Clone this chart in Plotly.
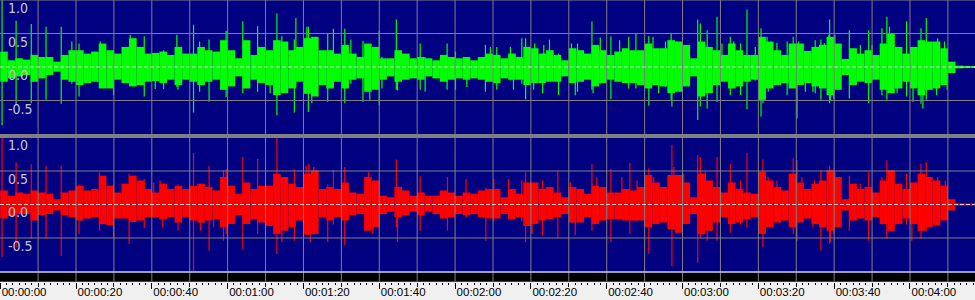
import plotly.graph_objects as go

# ---------------- data ----------------
BIN_SECONDS = 2.0  # each envelope value covers 2 s of audio

green_up = [0.23, 0.10, 0.13, 0.11, 0.18, 0.15, 0.15, 0.08, 0.18, 0.25,
            0.25, 0.20, 0.23, 0.35, 0.25, 0.20, 0.30, 0.43, 0.30, 0.20,
            0.21, 0.23, 0.18, 0.30, 0.20, 0.20, 0.30, 0.25, 0.23, 0.40,
            0.25, 0.13, 0.40, 0.18, 0.30, 0.25, 0.40, 0.38, 0.25, 0.30,
            0.43, 0.45, 0.25, 0.25, 0.20, 0.33, 0.20, 0.15, 0.35, 0.30,
            0.13, 0.13, 0.25, 0.20, 0.13, 0.15, 0.13, 0.10, 0.18, 0.15,
            0.13, 0.15, 0.10, 0.15, 0.20, 0.18, 0.13, 0.20, 0.15, 0.30,
            0.28, 0.20, 0.25, 0.18, 0.10, 0.28, 0.25, 0.20, 0.33, 0.25,
            0.18, 0.23, 0.28, 0.25, 0.25, 0.35, 0.28, 0.28, 0.40, 0.38,
            0.33, 0.13, 0.38, 0.30, 0.25, 0.18, 0.35, 0.25, 0.18, 0.18,
            0.45, 0.38, 0.25, 0.18, 0.35, 0.35, 0.24, 0.30, 0.33, 0.45,
            0.35, 0.12, 0.28, 0.20, 0.25, 0.18, 0.35, 0.50, 0.30, 0.20,
            0.30, 0.40, 0.38, 0.38, 0.28, 0.08, 0.02, 0.006, 0.006]
green_dn = [0.22, 0.17, 0.14, 0.12, 0.22, 0.17, 0.12, 0.07, 0.19, 0.22,
            0.27, 0.24, 0.22, 0.32, 0.32, 0.19, 0.24, 0.29, 0.27, 0.22,
            0.21, 0.24, 0.19, 0.27, 0.19, 0.22, 0.27, 0.22, 0.19, 0.34,
            0.29, 0.14, 0.32, 0.19, 0.24, 0.27, 0.42, 0.39, 0.32, 0.22,
            0.40, 0.44, 0.27, 0.32, 0.22, 0.32, 0.19, 0.17, 0.37, 0.34,
            0.19, 0.14, 0.22, 0.19, 0.17, 0.19, 0.14, 0.17, 0.22, 0.19,
            0.17, 0.19, 0.17, 0.19, 0.22, 0.24, 0.17, 0.19, 0.19, 0.27,
            0.24, 0.24, 0.22, 0.22, 0.14, 0.24, 0.22, 0.19, 0.29, 0.24,
            0.19, 0.22, 0.24, 0.24, 0.27, 0.32, 0.27, 0.29, 0.39, 0.37,
            0.29, 0.14, 0.44, 0.39, 0.27, 0.22, 0.32, 0.29, 0.22, 0.19,
            0.49, 0.32, 0.27, 0.24, 0.32, 0.27, 0.24, 0.29, 0.32, 0.42,
            0.34, 0.12, 0.27, 0.22, 0.24, 0.19, 0.34, 0.39, 0.32, 0.22,
            0.32, 0.42, 0.34, 0.32, 0.27, 0.09, 0.02, 0.006, 0.006]
red_up = [0.21, 0.13, 0.18, 0.16, 0.21, 0.18, 0.16, 0.08, 0.18, 0.21,
          0.28, 0.21, 0.23, 0.43, 0.28, 0.18, 0.31, 0.43, 0.36, 0.23,
          0.18, 0.31, 0.23, 0.28, 0.23, 0.28, 0.31, 0.26, 0.21, 0.41,
          0.28, 0.16, 0.33, 0.23, 0.28, 0.28, 0.46, 0.41, 0.31, 0.26,
          0.46, 0.51, 0.23, 0.26, 0.23, 0.33, 0.18, 0.16, 0.41, 0.36,
          0.13, 0.11, 0.26, 0.21, 0.13, 0.18, 0.13, 0.13, 0.21, 0.18,
          0.13, 0.18, 0.16, 0.21, 0.23, 0.23, 0.11, 0.23, 0.16, 0.33,
          0.33, 0.23, 0.26, 0.18, 0.11, 0.26, 0.23, 0.16, 0.28, 0.26,
          0.18, 0.18, 0.23, 0.21, 0.26, 0.44, 0.33, 0.26, 0.44, 0.44,
          0.33, 0.11, 0.46, 0.36, 0.26, 0.18, 0.33, 0.23, 0.18, 0.16,
          0.49, 0.36, 0.26, 0.21, 0.46, 0.33, 0.23, 0.31, 0.36, 0.51,
          0.41, 0.08, 0.31, 0.23, 0.26, 0.18, 0.36, 0.51, 0.31, 0.23,
          0.33, 0.46, 0.41, 0.36, 0.28, 0.08, 0.02, 0.006, 0.006]
red_dn = [0.21, 0.17, 0.14, 0.14, 0.24, 0.16, 0.14, 0.09, 0.16, 0.19,
          0.24, 0.21, 0.19, 0.29, 0.31, 0.21, 0.21, 0.26, 0.24, 0.19,
          0.19, 0.22, 0.19, 0.27, 0.19, 0.24, 0.27, 0.24, 0.22, 0.34,
          0.29, 0.16, 0.29, 0.22, 0.27, 0.32, 0.44, 0.39, 0.34, 0.24,
          0.45, 0.44, 0.19, 0.24, 0.19, 0.24, 0.16, 0.14, 0.39, 0.34,
          0.14, 0.11, 0.19, 0.16, 0.11, 0.16, 0.11, 0.14, 0.21, 0.19,
          0.14, 0.16, 0.14, 0.19, 0.21, 0.21, 0.14, 0.22, 0.19, 0.32,
          0.29, 0.24, 0.22, 0.19, 0.14, 0.27, 0.27, 0.19, 0.29, 0.24,
          0.22, 0.22, 0.24, 0.24, 0.24, 0.34, 0.29, 0.27, 0.37, 0.42,
          0.29, 0.14, 0.44, 0.39, 0.27, 0.19, 0.29, 0.27, 0.22, 0.19,
          0.44, 0.34, 0.27, 0.24, 0.34, 0.27, 0.21, 0.29, 0.34, 0.39,
          0.34, 0.09, 0.24, 0.21, 0.24, 0.19, 0.29, 0.39, 0.29, 0.21,
          0.29, 0.39, 0.34, 0.31, 0.24, 0.09, 0.02, 0.006, 0.006]

# isolated peaks (time in s, positive peak, negative peak magnitude)
green_spike_t = [0.5, 4.2, 8.2, 12.1, 16.1, 18.9, 20.8, 26.4, 29.9, 34.3, 38.0,
                 40.9, 43.1, 46.6, 46.9, 51.0, 52.6, 55.1, 59.6, 64.0, 67.9, 71.2,
                 73.0, 74.3, 77.6, 78.0, 80.9, 81.3, 82.2, 86.4, 87.9, 90.9, 92.5,
                 95.7, 97.5, 100.0, 100.7, 104.5, 104.8, 110.8, 112.1, 117.9, 120.1,
                 123.1, 128.0, 129.3, 131.0, 134.6, 135.4, 137.6, 138.6, 140.7, 141.0,
                 143.1, 143.4, 144.9, 147.3, 150.7, 151.7, 152.3, 156.1, 156.4, 158.3,
                 161.1, 163.4, 165.8, 167.7, 171.1, 172.2, 173.7, 175.5, 177.0, 177.2,
                 178.5, 184.0, 184.7, 186.5, 189.1, 190.4, 192.6, 193.5, 195.3, 197.0,
                 199.2, 200.7, 201.2, 202.3, 202.6, 204.9, 207.6, 209.2, 210.2, 210.6,
                 211.5, 212.4, 214.4, 215.0, 216.5, 217.4, 218.6, 218.8, 219.0, 219.9,
                 220.2, 224.0, 226.9, 229.1, 230.0, 232.6, 233.9, 234.6, 236.6, 239.1,
                 240.5, 240.8, 242.9, 243.4, 244.3, 247.0, 247.3, 249.1, 249.8]
green_spike_up = [1.00, 0.69, 0.64, 0.60, 0.60, 0.38, 0.35, 0.38, 0.25, 0.48, 0.46,
                  0.20, 0.25, 0.48, 0.30, 0.63, 0.38, 0.41, 0.54, 0.68, 0.61, 0.25,
                  0.80, 0.46, 0.41, 0.73, 0.60, 0.60, 0.40, 0.50, 0.57, 0.57, 0.41,
                  0.39, 0.30, 0.54, 0.15, 0.71, 0.20, 0.35, 0.15, 0.35, 0.23,
                  0.15, 0.33, 0.30, 0.30, 0.30, 0.20, 0.43, 0.43, 0.25, 0.35,
                  0.20, 0.33, 0.41, 0.20, 0.35, 0.20, 0.35, 0.68, 0.20, 0.44,
                  0.46, 0.40, 0.45, 0.50, 0.46, 0.45, 0.25, 0.38, 0.51, 0.30,
                  0.38, 0.71, 0.65, 0.55, 0.75, 0.35, 0.45, 0.38, 0.35, 0.86,
                  0.30, 0.58, 0.40, 0.45, 0.30, 0.36, 0.38, 0.45, 0.30, 0.38,
                  0.33, 0.20, 0.25, 0.40, 0.41, 0.36, 0.48, 0.71, 0.30, 0.30,
                  0.48, 0.55, 0.33, 0.55, 0.33, 0.58, 0.75, 0.60, 0.30, 0.68,
                  0.28, 0.20, 0.58, 0.30, 0.73, 0.30, 0.43, 0.38, 0.25]
green_spike_dn = [0.87, 0.57, 0.54, 0.49, 0.55, 0.25, 0.44, 0.30, 0.42, 0.28, 0.44,
                  0.33, 0.33, 0.30, 0.34, 0.68, 0.37, 0.52, 0.45, 0.39, 0.37, 0.39,
                  0.72, 0.30, 0.68, 0.30, 0.30, 0.67, 0.54, 0.52, 0.30, 0.54, 0.25,
                  0.52, 0.49, 0.57, 0.32, 0.34, 0.35, 0.34, 0.37, 0.34, 0.34,
                  0.30, 0.37, 0.20, 0.34, 0.20, 0.34, 0.25, 0.48, 0.34, 0.20,
                  0.39, 0.20, 0.20, 0.42, 0.20, 0.42, 0.37, 0.34, 0.39, 0.25,
                  0.48, 0.20, 0.32, 0.32, 0.58, 0.25, 0.39, 0.30, 0.49, 0.59,
                  0.30, 0.79, 0.59, 0.62, 0.52, 0.20, 0.42, 0.25, 0.42, 0.63,
                  0.20, 0.74, 0.54, 0.30, 0.37, 0.25, 0.42, 0.30, 0.77, 0.25,
                  0.25, 0.37, 0.37, 0.39, 0.49, 0.25, 0.30, 0.54, 0.49, 0.48,
                  0.30, 0.47, 0.20, 0.54, 0.20, 0.42, 0.49, 0.35, 0.39, 0.44,
                  0.30, 0.52, 0.55, 0.62, 0.49, 0.42, 0.30, 0.25, 0.34]

red_spike_t = [0.5, 4.2, 8.2, 12.1, 16.1, 20.8, 26.2, 29.9, 34.0, 38.0,
               40.5, 42.2, 42.9, 46.9, 51.0, 52.8, 55.1, 56.3, 58.9, 59.6, 64.0,
               67.9, 73.0, 74.3, 77.6, 80.7, 81.4, 81.8, 82.7, 86.4, 87.9, 90.9,
               97.2, 98.3, 104.5, 104.8, 110.8, 118.0, 122.9, 128.1, 130.2,
               134.1, 137.6, 138.6, 140.3, 143.1, 147.1, 150.4, 151.7, 156.1,
               157.4, 161.1, 164.0, 166.1, 168.0, 171.1, 172.4, 177.2, 177.7,
               178.5, 180.3, 184.0, 184.7, 186.0, 186.5, 189.1, 192.6, 195.3,
               197.0, 201.2, 202.6, 204.9, 209.2, 210.2, 211.5, 214.4, 214.8,
               216.5, 218.8, 219.0, 219.9, 220.2, 224.0, 226.9, 229.1, 232.6,
               233.9, 239.1, 240.5, 242.9, 244.3, 247.3, 249.3]
red_spike_up = [1.00, 0.63, 0.60, 0.58, 0.58, 0.30, 0.48, 0.30, 0.46, 0.38,
                0.33, 0.36, 0.20, 0.30, 0.77, 0.30, 0.58, 0.20, 0.51, 0.53, 0.71,
                0.68, 1.00, 0.35, 0.53, 0.58, 0.61, 0.40, 0.56, 0.30, 0.52, 0.56,
                0.48, 0.30, 0.67, 0.20, 0.42, 0.41, 0.38, 0.25, 0.38,
                0.38, 0.36, 0.48, 0.25, 0.36, 0.50, 0.33, 0.20, 0.60,
                0.41, 0.53, 0.41, 0.62, 0.36, 0.54, 0.41, 0.89, 0.56,
                0.30, 0.46, 0.74, 0.71, 0.49, 0.30, 0.71, 0.61, 0.36,
                0.77, 0.67, 0.41, 0.36, 0.69, 0.66, 0.41, 0.25, 0.36,
                0.51, 0.58, 0.30, 0.25, 0.48, 0.43, 0.31, 0.48, 0.41,
                0.66, 0.46, 0.25, 0.61, 0.63, 0.41, 0.36]
red_spike_dn = [0.78, 0.64, 0.51, 0.51, 0.77, 0.44, 0.39, 0.49, 0.59, 0.35,
                0.20, 0.22, 0.34, 0.39, 1.00, 0.39, 0.69, 0.34, 0.54, 0.44, 0.67,
                0.44, 0.74, 0.56, 0.54, 0.44, 0.45, 0.56, 0.30, 0.56, 0.30, 0.61,
                0.30, 0.44, 0.34, 0.56, 0.39, 0.39, 0.20, 0.54, 0.25,
                0.20, 0.25, 0.56, 0.44, 0.46, 0.50, 0.20, 0.46, 0.39,
                0.25, 0.56, 0.20, 0.44, 0.25, 0.74, 0.25, 0.92, 0.30,
                0.44, 0.25, 0.87, 0.50, 0.30, 0.54, 0.54, 0.42, 0.30,
                0.34, 0.64, 0.30, 0.25, 0.44, 0.54, 0.25, 0.34, 0.20,
                0.69, 0.59, 0.56, 0.44, 0.30, 0.39, 0.20, 0.54, 0.30,
                0.51, 0.30, 0.54, 0.51, 0.39, 0.30, 0.20]

time_tick_vals = [0, 20, 40, 60, 80, 100, 120, 140, 160, 180, 200, 220, 240]
time_tick_text = ["00:00:00", "00:00:20", "00:00:40", "00:01:00", "00:01:20",
                  "00:01:40", "00:02:00", "00:02:20", "00:02:40", "00:03:00",
                  "00:03:20", "00:03:40", "00:04:00"]
amp_tick_vals = [1.0, 0.5, 0.0, -0.5]
amp_tick_text = ["1.0", "0.5", "0.0", "-0.5"]

# ---------------- style ----------------
NAVY = "#000080"
GRID = "#808080"
GREEN = "#00ff00"
RED = "#ff0000"
LABEL = "#c8c8d0"
TIME_RANGE = [-0.05, 257.15]
GRID_STEP = 10
MINOR_STEP = 10 / 6

TOP_DOM = [1 - 134 / 300, 1.0]
BOT_DOM = [1 - 271.5 / 300, 1 - 137.5 / 300]
BAND_DOM = [1 - 281.5 / 300, 1 - 273 / 300]


def body_trace(up, dn, color, xa, ya):
    centers = [BIN_SECONDS * i + BIN_SECONDS / 2 for i in range(len(up))]
    return go.Bar(x=centers, y=[u + d for u, d in zip(up, dn)],
                  base=[-d for d in dn], width=BIN_SECONDS,
                  marker=dict(color=color, line=dict(width=0)),
                  xaxis=xa, yaxis=ya, hoverinfo="skip", showlegend=False)


def spike_trace(ts, up, dn, color, xa, ya):
    xs, ys = [], []
    for t, u, d in zip(ts, up, dn):
        xs += [t, t, None]
        ys += [u, -d, None]
    return go.Scatter(x=xs, y=ys, mode="lines",
                      line=dict(color=color, width=1.2),
                      xaxis=xa, yaxis=ya, hoverinfo="skip", showlegend=False)


fig = go.Figure()
fig.add_trace(body_trace(green_up, green_dn, GREEN, "x", "y"))
fig.add_trace(spike_trace(green_spike_t, green_spike_up, green_spike_dn, GREEN, "x", "y"))
fig.add_trace(body_trace(red_up, red_dn, RED, "x2", "y2"))
fig.add_trace(spike_trace(red_spike_t, red_spike_up, red_spike_dn, RED, "x2", "y2"))
# empty traces so the ruler axes exist
fig.add_trace(go.Scatter(x=[], y=[], xaxis="x3", yaxis="y3", showlegend=False))
fig.add_trace(go.Scatter(x=[], y=[], xaxis="x4", yaxis="y3", showlegend=False))

hidden_axis = dict(showgrid=False, zeroline=False, showticklabels=False,
                   ticks="", showline=False, fixedrange=True)

fig.update_layout(
    width=975, height=300,
    margin=dict(l=0, r=0, t=0, b=0),
    paper_bgcolor=NAVY, plot_bgcolor=NAVY,
    showlegend=False, barmode="overlay",
    xaxis=dict(hidden_axis, domain=[0, 1], range=TIME_RANGE, anchor="y"),
    yaxis=dict(hidden_axis, domain=TOP_DOM, range=[-1, 1], anchor="x"),
    xaxis2=dict(hidden_axis, domain=[0, 1], range=TIME_RANGE, anchor="y2"),
    yaxis2=dict(hidden_axis, domain=BOT_DOM, range=[-1, 1], anchor="x2"),
    yaxis3=dict(hidden_axis, domain=BAND_DOM, range=[0, 1], anchor="x3"),
    xaxis3=dict(domain=[0, 1], range=TIME_RANGE, anchor="y3", side="bottom",
                showgrid=False, zeroline=False, showline=False,
                tickmode="array", tickvals=time_tick_vals, ticktext=time_tick_text,
                ticks="outside", ticklen=6, tickwidth=1, tickcolor="#000000",
                ticklabelposition="outside right", ticklabelstandoff=0,
                ticklabelshift=1,
                tickfont=dict(family="Liberation Sans, Arial, sans-serif",
                              size=11.5, color="#000000"),
                minor=dict(dtick=MINOR_STEP, tick0=0, ticks="outside", ticklen=2,
                           tickwidth=1, tickcolor="#000000", showgrid=False),
                fixedrange=True),
    xaxis4=dict(domain=[0, 1], range=TIME_RANGE, anchor="y3", overlaying="x3",
                side="bottom", showgrid=False, zeroline=False, showline=False,
                dtick=GRID_STEP * 2, tick0=GRID_STEP, ticks="outside", ticklen=4,
                tickwidth=1, tickcolor="#000000", showticklabels=False,
                fixedrange=True),
)

shapes = []
shapes.append(dict(type="rect", xref="paper", yref="paper", x0=0, x1=1,
                   y0=0, y1=BAND_DOM[0], fillcolor="#f0f0f0", line_width=0,
                   layer="below"))
shapes.append(dict(type="rect", xref="paper", yref="paper", x0=0, x1=1,
                   y0=BAND_DOM[0], y1=BAND_DOM[1], fillcolor="#000000",
                   line_width=0, layer="above"))
n_grid = int(TIME_RANGE[1] // GRID_STEP)
for k in range(1, n_grid + 1):
    t = k * GRID_STEP
    shapes.append(dict(type="line", xref="x", yref="paper", x0=t, x1=t,
                       y0=BAND_DOM[0], y1=1, line=dict(color=GRID, width=1),
                       layer="above"))
for yref in ("y", "y2"):
    for v in (1.0, 0.5, -0.5):
        shapes.append(dict(type="line", xref="paper", yref=yref, x0=0, x1=1,
                           y0=v, y1=v, line=dict(color=GRID, width=1),
                           layer="above"))
    shapes.append(dict(type="line", xref="paper", yref=yref, x0=0, x1=1,
                       y0=0, y1=0, line=dict(color="#d0d0d0", width=1, dash="4px,2px"),
                       layer="above"))
shapes.append(dict(type="rect", xref="paper", yref="paper", x0=0, x1=1,
                   y0=TOP_DOM[0] - 4 / 300, y1=TOP_DOM[0], fillcolor="#808080",
                   line_width=0, layer="above"))
shapes.append(dict(type="line", xref="paper", yref="paper", x0=0, x1=1,
                   y0=1 - 272 / 300, y1=1 - 272 / 300,
                   line=dict(color="#d0d0d0", width=1.5), layer="above"))
fig.update_layout(shapes=shapes)

annotations = []
for yref in ("y", "y2"):
    for v, txt in zip(amp_tick_vals, amp_tick_text):
        annotations.append(dict(xref="paper", yref=yref, x=7 / 975, y=v,
                                xanchor="left", yanchor="top", text=txt,
                                showarrow=False, borderpad=0, yshift=1,
                                font=dict(family="Liberation Sans Narrow, Arial Narrow, DejaVu Sans Condensed, sans-serif",
                                          size=14, color=LABEL)))
fig.update_layout(annotations=annotations)

fig.write_html("out.html")
